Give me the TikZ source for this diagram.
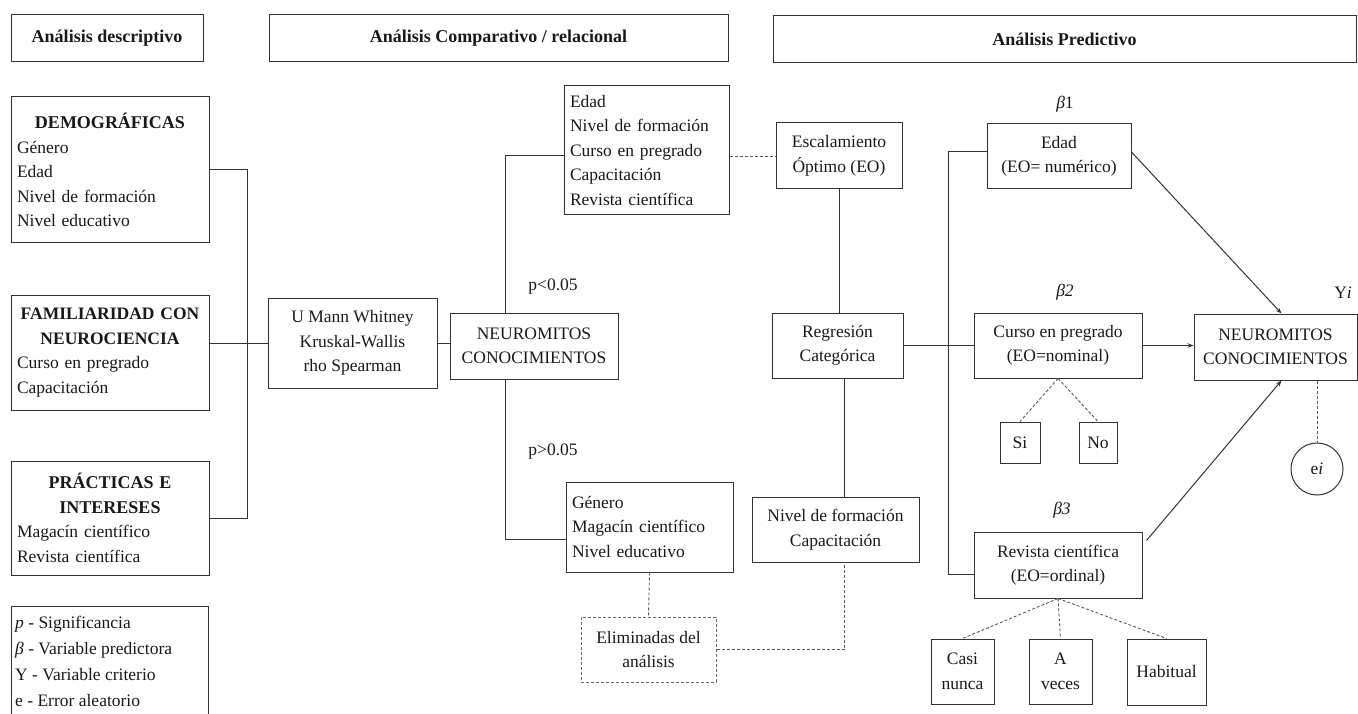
\documentclass[tikz,border=0pt]{standalone}
\usepackage{fontspec}
\setmainfont{Liberation Serif}
\usetikzlibrary{arrows.meta}
\begin{document}
\begin{tikzpicture}[x=1pt,y=-1pt,
  every node/.style={font=\fontsize{17.5}{24.5}\selectfont, text=black!90},
  box/.style={draw=black!80, line width=1pt, rectangle, inner sep=0pt, align=center},
  lbox/.style={box, align=left, inner xsep=6pt},
  dbox/.style={box, draw=black!60, dash pattern=on 3pt off 2pt},
  hdr/.style={box, font=\fontsize{18}{20}\selectfont\bfseries},
  conn/.style={draw=black!80, line width=1pt},
  dconn/.style={draw=black!65, line width=0.9pt, dash pattern=on 3pt off 2pt},
  arr/.style={conn, -{Stealth[length=6pt,width=4.5pt]}},
  lbl/.style={inner sep=0pt}
]
\useasboundingbox (0,0) rectangle (1358,714);

% headers
\node[hdr, minimum width=192, minimum height=47] (hdesc) at (107,38.5) {Análisis descriptivo};
\node[hdr, minimum width=459, minimum height=47] (hcomp) at (498.5,38.5) {Análisis Comparativo / relacional};
\node[hdr, minimum width=583, minimum height=47] (hpred) at (1064.5,39.5) {Análisis Predictivo};

% left column
\node[lbox, text width=186, minimum width=198, minimum height=146] (demo) at (110,170)
  {\makebox[\hsize][c]{\fontsize{18}{24.5}\selectfont\bfseries DEMOGRÁFICAS}\\Género\\Edad\\Nivel de formación\\Nivel educativo};
\node[lbox, text width=186, minimum width=198, minimum height=115] (fam) at (110,352.5)
  {\makebox[\hsize][c]{\fontsize{17.5}{24.5}\selectfont\bfseries FAMILIARIDAD CON}\\\makebox[\hsize][c]{\fontsize{17.5}{24.5}\selectfont\bfseries NEUROCIENCIA}\\Curso en pregrado\\Capacitación};
\node[lbox, text width=186, minimum width=198, minimum height=114] (prac) at (110,518)
  {\makebox[\hsize][c]{\fontsize{18}{24.5}\selectfont\bfseries PRÁCTICAS E}\\\makebox[\hsize][c]{\fontsize{18}{24.5}\selectfont\bfseries INTERESES}\\Magacín científico\\Revista científica};

% legend
\draw[conn] (11,714) -- (11,606) -- (208,606) -- (208,714);
\node[lbl, anchor=north west, align=left, font=\fontsize{17.5}{26}\selectfont] (leg) at (15,616)
  {\textit{p} - Significancia\\\textit{β} - Variable predictora\\Y - Variable criterio\\e - Error aleatorio};

% middle
\node[box, minimum width=169, minimum height=90] (umann) at (352.5,343) {U Mann Whitney\\Kruskal-Wallis\\rho Spearman};
\node[box, minimum width=168, minimum height=66] (neuroA) at (534,346) {NEUROMITOS\\CONOCIMIENTOS};
\node[lbox, text width=153, minimum width=165, minimum height=129] (sig) at (646.5,150.5)
  {Edad\\Nivel de formación\\Curso en pregrado\\Capacitación\\Revista científica};
\node[lbox, text width=155, minimum width=167, minimum height=90] (nsig) at (649.5,527)
  {Género\\Magacín científico\\Nivel educativo};
\node[dbox, minimum width=135, minimum height=65] (elim) at (648.5,649.5) {Eliminadas del\\análisis};
\node[box, minimum width=167, minimum height=65] (nivel) at (835.5,529.5) {Nivel de formación\\Capacitación};
\node[box, minimum width=126, minimum height=66] (escal) at (839,156) {Escalamiento\\Óptimo (EO)};
\node[box, minimum width=131, minimum height=65] (regr) at (837.5,345.5) {Regresión\\Categórica};

\node[lbl] (plt) at (553,287) {p<0.05};
\node[lbl] (pgt) at (553,452) {p>0.05};

% right
\node[box, minimum width=144, minimum height=65] (edad) at (1059,156.5) {Edad\\(EO= numérico)};
\node[box, minimum width=168, minimum height=65] (curso) at (1058,345.5) {Curso en pregrado\\(EO=nominal)};
\node[box, minimum width=168, minimum height=66] (revista) at (1058,565) {Revista científica\\(EO=ordinal)};
\node[box, minimum width=163, minimum height=66] (neuroB) at (1275.5,347) {NEUROMITOS\\CONOCIMIENTOS};
\node[box, minimum width=40, minimum height=41] (si) at (1020,442.5) {Si};
\node[box, minimum width=38, minimum height=41] (no) at (1098,442.5) {No};
\node[box, minimum width=63, minimum height=65] (casi) at (962.5,671.5) {Casi\\nunca};
\node[box, minimum width=63, minimum height=65] (aveces) at (1060.5,671.5) {A\\veces};
\node[box, minimum width=79, minimum height=66] (habitual) at (1166.5,672) {Habitual};
\node[box, circle, minimum size=52] (ei) at (1317,469) {e\textit{i}};

\node[lbl] (b1) at (1065,104) {\textit{β}1};
\node[lbl] (b2) at (1065,292) {\textit{β2}};
\node[lbl] (b3) at (1062,510) {\textit{β3}};
\node[lbl] (yi) at (1343,293) {Y\textit{i}};

% left bus
\coordinate (busT) at (247,170);
\coordinate (busB) at (247,518);
\draw[conn] (demo.east) -- (busT) -- (busB) -- (prac.east);
\draw[conn] (fam.east |- umann.west) -- (umann.west);
\draw[conn] (umann.east) -- (umann.east -| neuroA.west);

% middle branches
\coordinate (nUp) at (505,156);
\coordinate (nDn) at (505,539);
\draw[conn] (nUp |- neuroA.north) -- (nUp) -- (nUp -| sig.west);
\draw[conn] (nDn |- neuroA.south) -- (nDn) -- (nDn -| nsig.west);
\draw[dconn] (sig.east |- escal.west) -- (escal.west);
\draw[conn] (escal.south) -- (escal.south |- regr.north);
\draw[conn] ([xshift=7pt]regr.south) -- ([xshift=7pt]regr.south |- nivel.north);
\draw[dconn] (nsig.south) -- (elim.north);
\draw[dconn] (elim.east) -| ([xshift=9pt]nivel.south);

% right connections
\coordinate (rbT) at (948,152);
\coordinate (rbB) at (948,574);
\draw[conn] (regr.east) -- (curso.west);
\draw[conn] (rbT -| edad.west) -- (rbT) -- (rbB) -- (rbB -| revista.west);
\draw[arr] (curso.east) -- (curso.east -| neuroB.west);
\draw[arr] (rbT -| edad.east) -- ([xshift=6pt]neuroB.north);
\draw[arr] ([xshift=4pt,yshift=-9pt]revista.north east) -- ([xshift=6pt]neuroB.south);
\draw[dconn] (ei.north |- neuroB.south) -- (ei.north);
\draw[dconn] (curso.south) -- (si.north);
\draw[dconn] (curso.south) -- (no.north);
\draw[dconn] (revista.south) -- (casi.north);
\draw[dconn] (revista.south) -- (aveces.north);
\draw[dconn] (revista.south) -- (habitual.north);
\end{tikzpicture}
\end{document}
